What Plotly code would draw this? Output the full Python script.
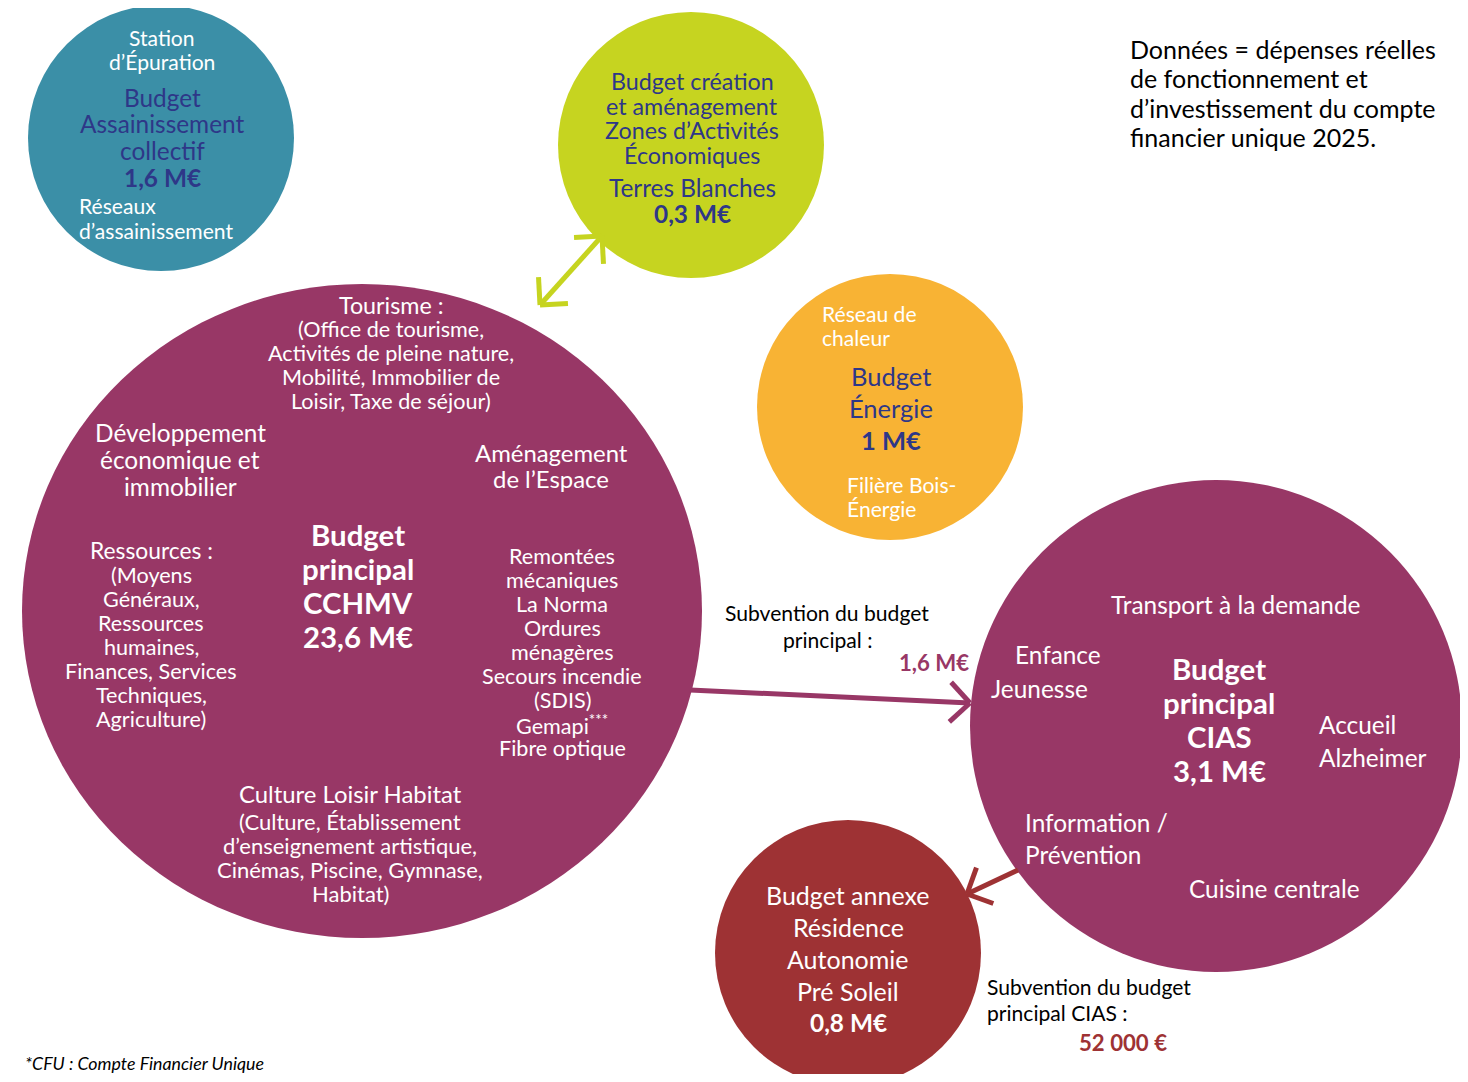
import math
import plotly.graph_objects as go

# données : dépenses réelles du CFU 2025 (M€)
budgets = ["Assainissement", "ZAE Terres Blanches", "Énergie",
           "Principal CCHMV", "Principal CIAS", "Résidence Pré Soleil"]
montants = [1.6, 0.3, 1.0, 23.6, 3.1, 0.8]
subvention_principal = 1.6      # M€ vers le CIAS
subvention_cias = 52000         # € vers la résidence


def meur(v):
    return ("%g" % v).replace(".", ",") + " M€"


# mise en page (pixels de la page)
cercle_x = [161, 691, 890, 362, 1216, 848]
cercle_y = [138, 145, 407, 611, 726, 953]
cercle_rx = [133, 133, 133, 340, 246, 133]
cercle_ry = [133, 133, 133, 327, 246, 133]
couleurs = ["#3B8FA7", "#C6D420", "#F8B334", "#983766", "#983766", "#9E3234"]

NAVY = "#2E3788"
WHITE = "white"
FONT = "Lato"
K = 1.11  # Lato est plus étroit que la police d'origine

fig = go.Figure()

for i in range(len(budgets)):
    fig.add_shape(type="circle", xref="x", yref="y",
                  x0=cercle_x[i] - cercle_rx[i], x1=cercle_x[i] + cercle_rx[i],
                  y0=cercle_y[i] - cercle_ry[i], y1=cercle_y[i] + cercle_ry[i],
                  fillcolor=couleurs[i], line=dict(width=0), layer="below")


def fleche(x0, y0, x1, y1, color, double=False, arm=28, ang=45):
    fig.add_shape(type="line", x0=x0, y0=y0, x1=x1, y1=y1,
                  line=dict(color=color, width=5))
    ends = [(x0, y0, x1, y1)]
    if double:
        ends.append((x1, y1, x0, y0))
    for a, b, c, d in ends:
        t = math.atan2(d - b, c - a)
        for s in (-1, 1):
            tt = t + math.pi - s * math.radians(ang)
            fig.add_shape(type="line", x0=c, y0=d,
                          x1=c + arm * math.cos(tt), y1=d + arm * math.sin(tt),
                          line=dict(color=color, width=5))


fleche(540, 305, 602, 236, "#C6D420", double=True)
fleche(690, 690, 970, 703, "#983766")
fleche(1018, 870, 967, 894, "#9E3234")


def bloc(lines, x, y, dy, size, color, bold=False, align="center", italic=False):
    for k, t in enumerate(lines):
        if bold:
            t = "<b>" + t + "</b>"
        if italic:
            t = "<i>" + t + "</i>"
        fig.add_annotation(x=x, y=y + k * dy, text=t, showarrow=False,
                           xanchor=align, yanchor="middle", align=align,
                           borderpad=0,
                           font=dict(family=FONT, size=round(size * K, 1),
                                     color=color))


# Assainissement
bloc(["Station", "d’Épuration"], 162, 37, 24, 19, WHITE)
bloc(["Budget", "Assainissement", "collectif"], 162, 97, 26.5, 22, NAVY)
bloc([meur(montants[0])], 162, 177, 26, 22, NAVY, bold=True)
bloc(["Réseaux", "d’assainissement"], 78, 205, 25, 19, WHITE, align="left")

# ZAE
bloc(["Budget création", "et aménagement", "Zones d’Activités", "Économiques"],
     692, 81, 24.5, 21, NAVY)
bloc(["Terres Blanches"], 692, 187, 26, 22, NAVY)
bloc([meur(montants[1])], 692, 213, 26, 22, NAVY, bold=True)

# Énergie
bloc(["Réseau de", "chaleur"], 821, 313, 24, 19, WHITE, align="left")
bloc(["Budget", "Énergie"], 891, 376, 32, 23, NAVY)
bloc([meur(montants[2])], 891, 440, 32, 23, NAVY, bold=True)
bloc(["Filière Bois-", "Énergie"], 846, 484, 24, 19, WHITE, align="left")

# note
bloc(["Données = dépenses réelles", "de fonctionnement et",
      "d’investissement du compte", "financier unique 2025."],
     1129, 49, 29.3, 22.5, "black", align="left")

# Budget principal CCHMV
bloc(["Tourisme :"], 391, 305, 24, 21, WHITE)
bloc(["(Office de tourisme,", "Activités de pleine nature,",
      "Mobilité, Immobilier de", "Loisir, Taxe de séjour)"],
     391, 329, 24, 19.5, WHITE)
bloc(["Développement", "économique et", "immobilier"], 180, 432, 27, 22, WHITE)
bloc(["Aménagement", "de l’Espace"], 551, 452, 26, 21.5, WHITE)
bloc(["Budget", "principal", "CCHMV", meur(montants[3])], 358, 534, 34.3, 26.5,
     WHITE, bold=True)
bloc(["Ressources :"], 151, 550, 24, 20.5, WHITE)
bloc(["(Moyens", "Généraux,", "Ressources", "humaines,", "Finances, Services",
      "Techniques,", "Agriculture)"], 151, 575, 24, 19.5, WHITE)
bloc(["Remontées", "mécaniques", "La Norma", "Ordures", "ménagères",
      "Secours incendie", "(SDIS)", "Gemapi<sup>***</sup>", "Fibre optique"],
     562, 556, 24, 19.5, WHITE)
bloc(["Culture Loisir Habitat"], 350, 793, 24, 21.5, WHITE)
bloc(["(Culture, Établissement", "d’enseignement artistique,",
      "Cinémas, Piscine, Gymnase,", "Habitat)"], 350, 821, 24, 19.8, WHITE)

# subvention vers CIAS
bloc(["Subvention du budget", "principal :"], 827, 612, 27, 19, "black")
bloc([meur(subvention_principal)], 970, 662, 26, 20, "#983766", bold=True,
     align="right")

# CIAS
bloc(["Transport à la demande"], 1235, 604, 26, 22, WHITE)
bloc(["Enfance"], 1014, 654, 26, 22, WHITE, align="left")
bloc(["Jeunesse"], 990, 688, 26, 22, WHITE, align="left")
bloc(["Budget", "principal", "CIAS", meur(montants[4])], 1219, 668, 34.3, 26.5,
     WHITE, bold=True)
bloc(["Accueil", "Alzheimer"], 1318, 724, 33, 22, WHITE, align="left")
bloc(["Information /", "Prévention"], 1024, 822, 32, 22, WHITE, align="left")
bloc(["Cuisine centrale"], 1188, 888, 26, 22, WHITE, align="left")

# Résidence
bloc(["Budget annexe", "Résidence", "Autonomie", "Pré Soleil"], 848, 895, 32,
     22.5, WHITE)
bloc([meur(montants[5])], 848, 1022, 32, 22, WHITE, bold=True)

bloc(["Subvention du budget", "principal CIAS :"], 986, 986, 26, 19,
     "black", align="left")
bloc([f"{subvention_cias:,} €".replace(",", " ")], 1123, 1042, 26, 20,
     "#9E3234", bold=True)

bloc(["*CFU : Compte Financier Unique"], 24, 1063, 20, 16, "black",
     align="left", italic=True)

fig.update_layout(
    width=1452, height=1066,
    margin=dict(l=0, r=0, t=0, b=0),
    paper_bgcolor="white", plot_bgcolor="white",
    showlegend=False,
    xaxis=dict(range=[8, 1460], visible=False, fixedrange=True),
    yaxis=dict(range=[1074, 8], visible=False, fixedrange=True),
)
fig.write_html("out.html")
